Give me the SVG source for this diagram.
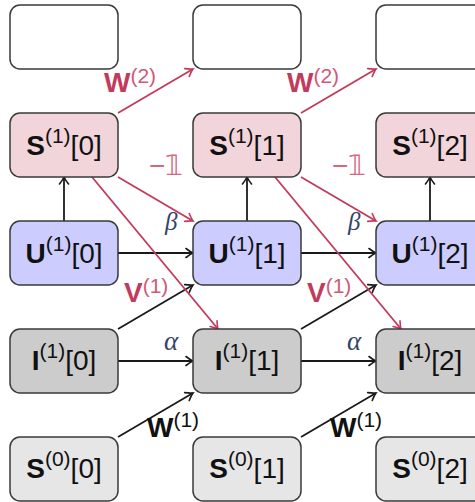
<svg xmlns="http://www.w3.org/2000/svg" width="475" height="502" viewBox="0 0 475 502">
<defs>
<style>
.node rect{stroke:#3a3a3a;stroke-width:1.5}
.top rect{fill:#ffffff}
.s1 rect{fill:#f2d5da}
.u rect{fill:#ccccff}
.i rect{fill:#cccccc}
.s0 rect{fill:#e6e6e6}
.t{font-family:"Liberation Sans",Arial,sans-serif;font-size:28px;fill:#111;text-anchor:middle}
.sup{font-size:21px}
.b{font-weight:bold}
.blk{stroke:#1a1a1a;stroke-width:1.8;fill:none;marker-end:url(#ak)}
.red{stroke:#c23a5c;stroke-width:1.8;fill:none;marker-end:url(#ar)}
.lab{font-family:"Liberation Sans",Arial,sans-serif;font-size:28px}
.lsup{font-size:21px}
.greek{font-family:"Liberation Serif","Times New Roman",serif;font-style:italic;fill:#334466}
</style>
<marker id="ak" viewBox="-10 -6 12 12" markerWidth="12" markerHeight="12" refX="0" refY="0" orient="auto" markerUnits="userSpaceOnUse">
<path d="M-7,-4.5 Q-2.5,-1 0,0 Q-2.5,1 -7,4.5" fill="none" stroke="#1a1a1a" stroke-width="1.6" stroke-linecap="round"/>
</marker>
<marker id="ar" viewBox="-10 -6 12 12" markerWidth="12" markerHeight="12" refX="0" refY="0" orient="auto" markerUnits="userSpaceOnUse">
<path d="M-7,-4.5 Q-2.5,-1 0,0 Q-2.5,1 -7,4.5" fill="none" stroke="#c23a5c" stroke-width="1.6" stroke-linecap="round"/>
</marker>
</defs>

<g id="connectors">
<line class="blk" x1="64" y1="221" x2="64" y2="177"/>
<line class="blk" x1="247" y1="221" x2="247" y2="177"/>
<line class="blk" x1="430" y1="221" x2="430" y2="177"/>
<line class="blk" x1="118" y1="253" x2="193" y2="253"/>
<line class="blk" x1="301" y1="253" x2="376" y2="253"/>
<line class="blk" x1="118" y1="361" x2="193" y2="361"/>
<line class="blk" x1="301" y1="361" x2="376" y2="361"/>
<line class="blk" x1="118" y1="329" x2="193" y2="285"/>
<line class="blk" x1="301" y1="329" x2="376" y2="285"/>
<line class="blk" x1="118" y1="437" x2="193" y2="393"/>
<line class="blk" x1="301" y1="437" x2="376" y2="393"/>
<line class="red" x1="118" y1="113" x2="193" y2="69"/>
<line class="red" x1="301" y1="113" x2="376" y2="69"/>
<line class="red" x1="118" y1="177" x2="193" y2="221"/>
<line class="red" x1="301" y1="177" x2="376" y2="221"/>
<line class="red" x1="92" y1="177" x2="218" y2="329"/>
<line class="red" x1="275" y1="177" x2="401" y2="329"/>
</g>

<g id="labels">
<text class="lab" x="104" y="92"><tspan class="b" fill="#c23a5c">W</tspan><tspan class="lsup" fill="#cf5a78" dy="-9">(2)</tspan></text>
<text class="lab" x="287" y="92"><tspan class="b" fill="#c23a5c">W</tspan><tspan class="lsup" fill="#cf5a78" dy="-9">(2)</tspan></text>
<text class="lab" x="149" y="175" fill="#d4687f" font-size="26">−𝟙</text>
<text class="lab" x="332" y="175" fill="#d4687f" font-size="26">−𝟙</text>
<text class="greek" x="165" y="230" font-size="25">β</text>
<text class="greek" x="348" y="230" font-size="25">β</text>
<text class="lab" x="124" y="302"><tspan class="b" fill="#c23a5c">V</tspan><tspan class="lsup" fill="#cf5a78" dy="-9">(1)</tspan></text>
<text class="lab" x="307" y="302"><tspan class="b" fill="#c23a5c">V</tspan><tspan class="lsup" fill="#cf5a78" dy="-9">(1)</tspan></text>
<text class="greek" x="164" y="350" font-size="27">α</text>
<text class="greek" x="347" y="350" font-size="27">α</text>
<text class="lab" x="147" y="437" fill="#111"><tspan class="b">W</tspan><tspan class="lsup" dy="-10">(1)</tspan></text>
<text class="lab" x="330" y="437" fill="#111"><tspan class="b">W</tspan><tspan class="lsup" dy="-10">(1)</tspan></text>
</g>

<g id="top0" class="node top"><rect x="10" y="5" width="108" height="64" rx="10"/></g>
<g id="top1" class="node top"><rect x="193" y="5" width="108" height="64" rx="10"/></g>
<g id="top2" class="node top"><rect x="376" y="5" width="108" height="64" rx="10"/></g>

<g id="S1_0" class="node s1"><rect x="10" y="113" width="108" height="64" rx="10"/><text class="t" x="64" y="155"><tspan class="b">S</tspan><tspan class="sup" dy="-12">(1)</tspan><tspan dy="12">[0]</tspan></text></g>
<g id="S1_1" class="node s1"><rect x="193" y="113" width="108" height="64" rx="10"/><text class="t" x="247" y="155"><tspan class="b">S</tspan><tspan class="sup" dy="-12">(1)</tspan><tspan dy="12">[1]</tspan></text></g>
<g id="S1_2" class="node s1"><rect x="376" y="113" width="108" height="64" rx="10"/><text class="t" x="430" y="155"><tspan class="b">S</tspan><tspan class="sup" dy="-12">(1)</tspan><tspan dy="12">[2]</tspan></text></g>

<g id="U1_0" class="node u"><rect x="10" y="221" width="108" height="64" rx="10"/><text class="t" x="64" y="263"><tspan class="b">U</tspan><tspan class="sup" dy="-12">(1)</tspan><tspan dy="12">[0]</tspan></text></g>
<g id="U1_1" class="node u"><rect x="193" y="221" width="108" height="64" rx="10"/><text class="t" x="247" y="263"><tspan class="b">U</tspan><tspan class="sup" dy="-12">(1)</tspan><tspan dy="12">[1]</tspan></text></g>
<g id="U1_2" class="node u"><rect x="376" y="221" width="108" height="64" rx="10"/><text class="t" x="430" y="263"><tspan class="b">U</tspan><tspan class="sup" dy="-12">(1)</tspan><tspan dy="12">[2]</tspan></text></g>

<g id="I1_0" class="node i"><rect x="10" y="329" width="108" height="64" rx="10"/><text class="t" x="64" y="370"><tspan class="b">I</tspan><tspan class="sup" dy="-12">(1)</tspan><tspan dy="12">[0]</tspan></text></g>
<g id="I1_1" class="node i"><rect x="193" y="329" width="108" height="64" rx="10"/><text class="t" x="247" y="370"><tspan class="b">I</tspan><tspan class="sup" dy="-12">(1)</tspan><tspan dy="12">[1]</tspan></text></g>
<g id="I1_2" class="node i"><rect x="376" y="329" width="108" height="64" rx="10"/><text class="t" x="430" y="370"><tspan class="b">I</tspan><tspan class="sup" dy="-12">(1)</tspan><tspan dy="12">[2]</tspan></text></g>

<g id="S0_0" class="node s0"><rect x="10" y="437" width="108" height="64" rx="10"/><text class="t" x="64" y="478"><tspan class="b">S</tspan><tspan class="sup" dy="-12">(0)</tspan><tspan dy="12">[0]</tspan></text></g>
<g id="S0_1" class="node s0"><rect x="193" y="437" width="108" height="64" rx="10"/><text class="t" x="247" y="478"><tspan class="b">S</tspan><tspan class="sup" dy="-12">(0)</tspan><tspan dy="12">[1]</tspan></text></g>
<g id="S0_2" class="node s0"><rect x="376" y="437" width="108" height="64" rx="10"/><text class="t" x="430" y="478"><tspan class="b">S</tspan><tspan class="sup" dy="-12">(0)</tspan><tspan dy="12">[2]</tspan></text></g>
</svg>
